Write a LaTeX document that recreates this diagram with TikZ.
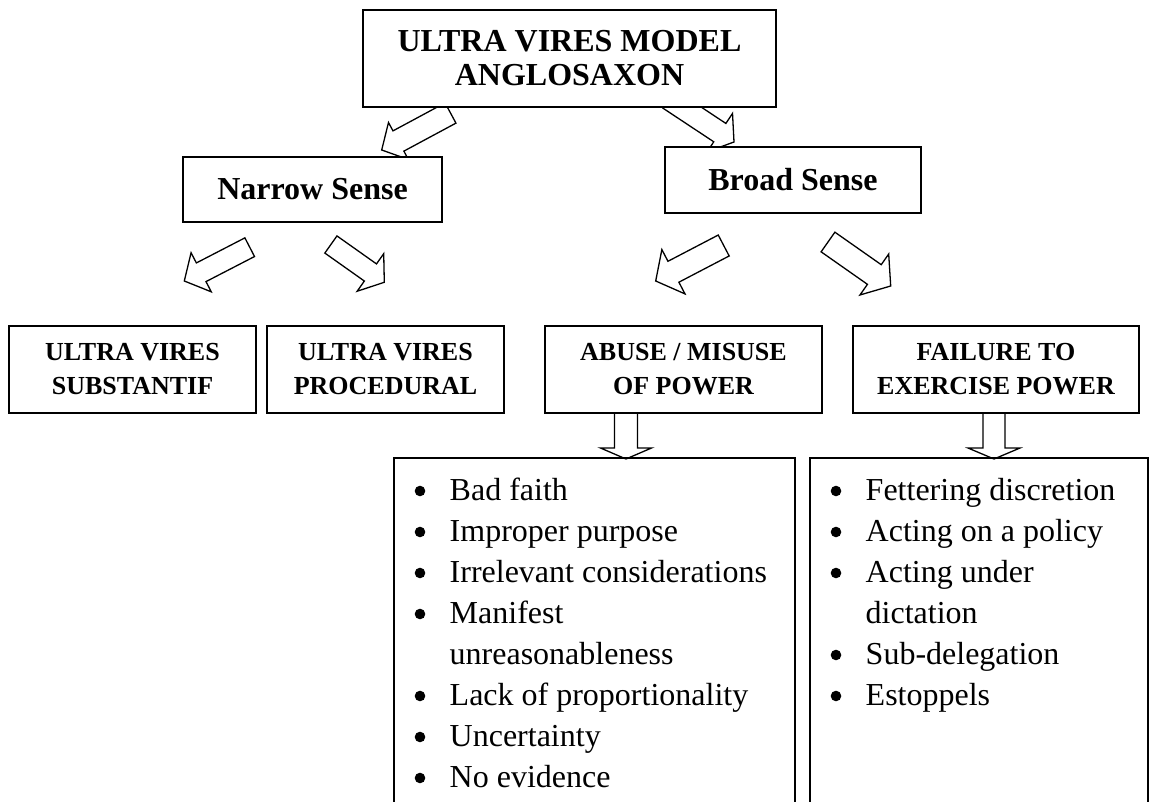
\documentclass[tikz,border=0pt]{standalone}
\usepackage{fontspec}
\setmainfont{Liberation Serif}
\usetikzlibrary{calc}
\newcommand\blockarrow[5]{% tail, tip, shaft half width, head half width, head length
  \coordinate (ba-h) at ($(#2)!#5!(#1)$);
  \draw[blockarrowline] ($(#1)!#3!90:(#2)$) -- ($(ba-h)!#3!-90:(#1)$) -- ($(ba-h)!#4!-90:(#1)$) -- (#2) -- ($(ba-h)!#4!90:(#1)$) -- ($(ba-h)!#3!90:(#1)$) -- ($(#1)!#3!-90:(#2)$) -- cycle;
}
\tikzset{
  box/.style={draw, line width=1.6pt, fill=white, inner sep=0pt, align=center,
    font=\bfseries\fontsize{32}{34}\selectfont},
  smallbox/.style={box, font=\bfseries\fontsize{26}{34}\selectfont},
  listbox/.style={draw, line width=1.6pt, anchor=north west, inner sep=0pt},
  listtext/.style={anchor=base west, inner sep=0pt, font=\fontsize{32}{41}\selectfont},
  blockarrowline/.style={line width=1.3pt, draw=black, fill=white, line join=miter},
  bulletdot/.style={fill=black},
}
\begin{document}
\begin{tikzpicture}[x=1pt,y=-1pt]
\useasboundingbox (0,0) rectangle (1151,802);
\clip (0,0) rectangle (1151,802);
\fill[white] (0,0) rectangle (1151,802);

% connector end points
\coordinate (t1) at (450.5,113);   \coordinate (p1) at (381.7,150);
\coordinate (t2) at (669,99);      \coordinate (p2) at (734,142);
\coordinate (t3) at (249.7,247.2); \coordinate (p3) at (184.3,281);
\coordinate (t4) at (330.9,244.5); \coordinate (p4) at (384.3,282.3);
\coordinate (t5) at (723.7,245.5); \coordinate (p5) at (655.7,281);
\coordinate (t6) at (828,242);     \coordinate (p6) at (890.7,286);
\coordinate (t7) at (626,405);     \coordinate (p7) at (626,459);
\coordinate (t8) at (994,405);     \coordinate (p8) at (994,459);

\blockarrow{t1}{p1}{11.5pt}{21pt}{19pt}
\blockarrow{t2}{p2}{11pt}{23pt}{17pt}
\blockarrow{t3}{p3}{10.5pt}{22pt}{19pt}
\blockarrow{t4}{p4}{10.5pt}{23pt}{17pt}
\blockarrow{t5}{p5}{11.8pt}{25pt}{20pt}
\blockarrow{t6}{p6}{12pt}{25pt}{20pt}
\blockarrow{t7}{p7}{11.5pt}{25.5pt}{11pt}
\blockarrow{t8}{p8}{11pt}{26pt}{11pt}

% boxes
\node[box, minimum width=413pt, minimum height=97pt] (top) at (569.5,58.5) {ULTRA VIRES MODEL\\ANGLOSAXON};
\node[box, minimum width=259pt, minimum height=65pt] (narrow) at (312.5,189.5) {Narrow Sense};
\node[box, minimum width=256pt, minimum height=66pt] (broad) at (793,180) {Broad Sense};

\node[smallbox, minimum width=247pt, minimum height=87pt] (subst) at (132.5,369.5) {ULTRA VIRES\\SUBSTANTIF};
\node[smallbox, minimum width=237pt, minimum height=87pt] (proc) at (385.5,369.5) {ULTRA VIRES\\PROCEDURAL};
\node[smallbox, minimum width=277pt, minimum height=87pt] (abuse) at (683.5,369.5) {ABUSE / MISUSE\\OF POWER};
\node[smallbox, minimum width=286pt, minimum height=87pt] (fail) at (996,369.5) {FAILURE TO\\EXERCISE POWER};

\node[listbox, minimum width=401pt, minimum height=400pt] (lboxA) at (393,457) {};
\node[listbox, minimum width=338pt, minimum height=400pt] (lboxB) at (809,457) {};

\node[listtext] (listA) at (449.5,500) {\begin{tabular}[t]{@{}l@{}}
Bad faith\\
Improper purpose\\
Irrelevant considerations\\
Manifest\\
unreasonableness\\
Lack of proportionality\\
Uncertainty\\
No evidence
\end{tabular}};
\node[listtext] (listB) at (865.5,500) {\begin{tabular}[t]{@{}l@{}}
Fettering discretion\\
Acting on a policy\\
Acting under\\
dictation\\
Sub-delegation\\
Estoppels
\end{tabular}};

% bullets
\foreach \r in {0,1,2,3,5,6,7} \fill[bulletdot] (420,{491-\r*(-41)}) circle[radius=5.3pt];
\foreach \r in {0,1,2,4,5} \fill[bulletdot] (836,{491-\r*(-41)}) circle[radius=5.3pt];
\end{tikzpicture}
\end{document}
